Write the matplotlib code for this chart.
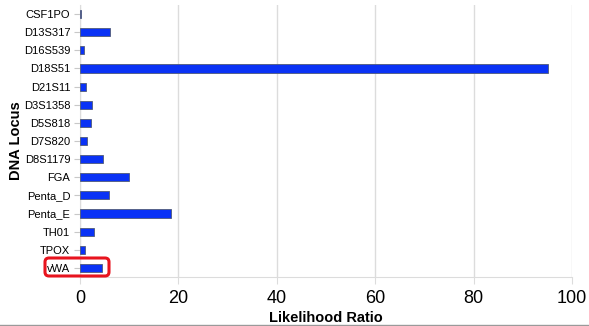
import numpy as np
import matplotlib
matplotlib.use("Agg")
import matplotlib.pyplot as plt
from matplotlib.patches import FancyBboxPatch
from matplotlib.lines import Line2D
from matplotlib.transforms import IdentityTransform

plt.rcParams['font.family'] = ['Liberation Sans', 'DejaVu Sans']

# likelihood ratio per STR locus
loci = ["CSF1PO", "D13S317", "D16S539", "D18S51", "D21S11", "D3S1358", "D5S818",
        "D7S820", "D8S1179", "FGA", "Penta_D", "Penta_E", "TH01", "TPOX", "vWA"]
ratios = [0.3, 6.1, 0.8, 95.2, 1.2, 2.5, 2.2, 1.5, 4.75, 10.0, 5.8, 18.5, 2.8, 1.1, 4.4]
xticks = [0, 20, 40, 60, 80, 100]

fig = plt.figure(figsize=(5.89, 3.26), dpi=100)
ax = fig.add_axes([0.1358, 0.1503, 0.8353, 0.8344])

y = np.arange(len(loci))
ax.barh(y, ratios, height=0.45, color="#0a32f5", edgecolor="#505a78", linewidth=0.6, zorder=3)

ax.set_ylim(len(loci) - 0.5, -0.5)
ax.set_xlim(0, 100)
ax.set_yticks(y)
ax.set_yticklabels(loci, fontsize=8)
ax.set_xticks(xticks)
ax.set_xticklabels([str(t) for t in xticks], fontsize=13)

ax.grid(axis="x", color="#dcdcdc", linewidth=1, zorder=0)
ax.tick_params(axis="x", length=5, color="#dcdcdc", pad=4)
ax.tick_params(axis="y", length=4, color="#c8c8c8", pad=3)
for side in ["top", "right"]:
    ax.spines[side].set_visible(False)
ax.spines["left"].set_color("#dcdcdc")
ax.spines["bottom"].set_color("#dcdcdc")

ax.set_xlabel("Likelihood Ratio", fontsize=10.5, fontweight="bold", va="center")
ax.set_ylabel("DNA Locus", fontsize=10.5, fontweight="bold", va="center")
ax.xaxis.set_label_coords(0.5, -0.151)
ax.yaxis.set_label_coords(-0.13, 0.5)

# highlight around the vWA row
box = FancyBboxPatch((45, 50), 64, 18, boxstyle="round,pad=0,rounding_size=4",
                     transform=IdentityTransform(), fill=False,
                     edgecolor="#e8141e", linewidth=2.2)
fig.patches.append(box)

# thin rule along the bottom edge
fig.add_artist(Line2D([0, 1], [0.004, 0.004], transform=fig.transFigure,
                      color="#9a9a9a", linewidth=1))

fig.savefig("out.png", dpi=100)
